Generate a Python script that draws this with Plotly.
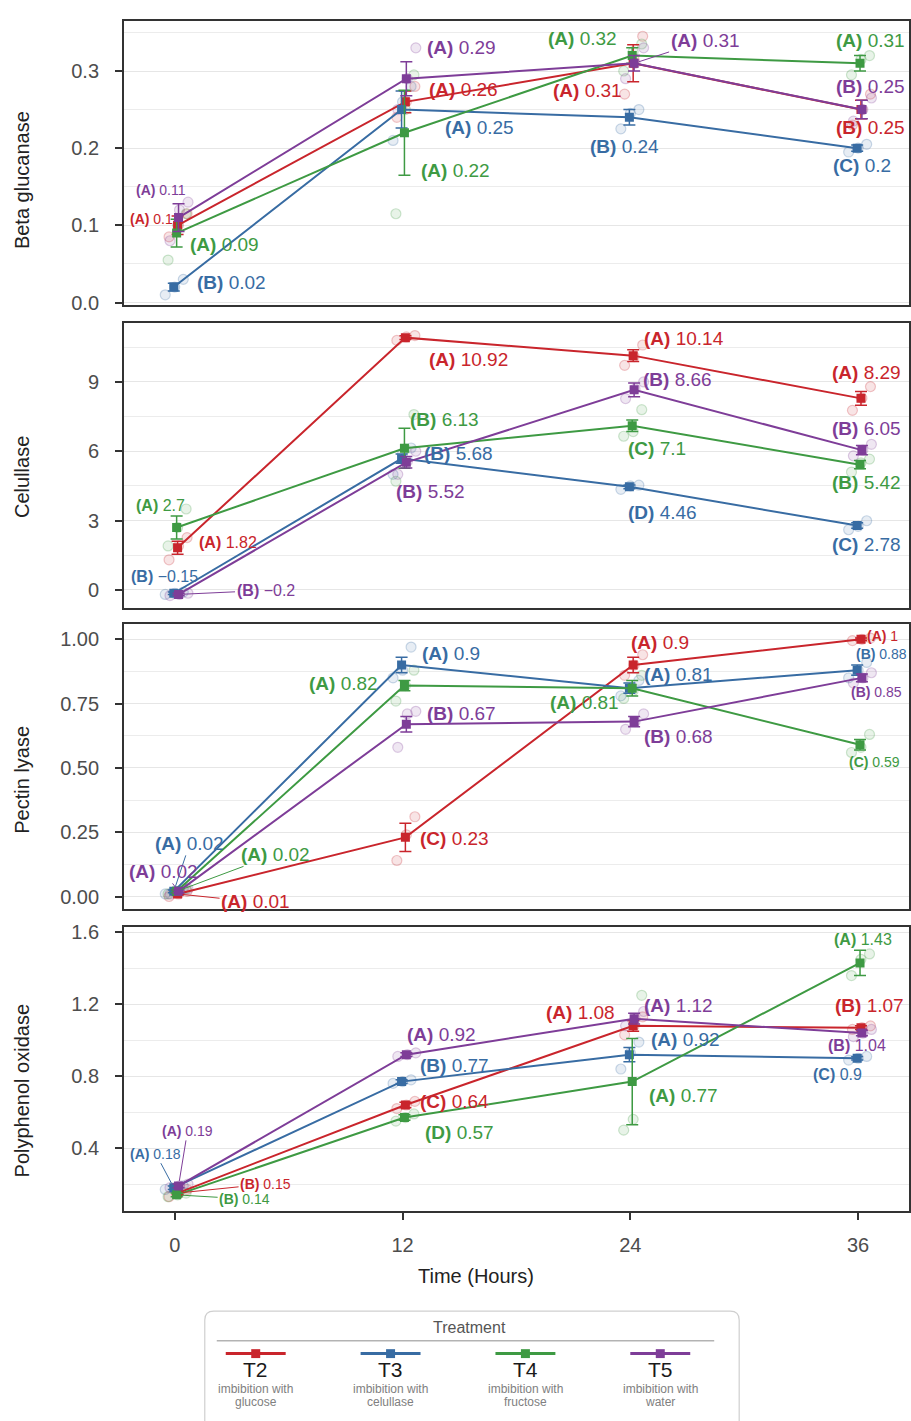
import plotly.graph_objects as go

W, H = 911, 1421
FONT = "Liberation Sans"

# ---------------------------------------------------------------- data
TIME = [0, 12, 24, 36]
TREATMENTS = ["T2", "T3", "T4", "T5"]
TREATMENT_INFO = [["imbibition with", "glucose"], ["imbibition with", "celullase"],
                  ["imbibition with", "fructose"], ["imbibition with", "water"]]
ENZYMES = ["Beta glucanase", "Celullase", "Pectin lyase", "Polyphenol oxidase"]

# rows = T2, T3, T4, T5 ; columns = 0, 12, 24, 36 h
BG_MEAN = [[0.10, 0.26, 0.31, 0.25],
           [0.02, 0.25, 0.24, 0.20],
           [0.09, 0.22, 0.32, 0.31],
           [0.11, 0.29, 0.31, 0.25]]
BG_SE = [[0.012, 0.014, 0.024, 0.012],
         [0.005, 0.024, 0.010, 0.004],
         [0.018, 0.055, 0.010, 0.010],
         [0.018, 0.022, 0.010, 0.012]]
BG_GROUP = [["A", "A", "A", "B"], ["B", "A", "B", "C"],
            ["A", "A", "A", "A"], ["A", "A", "A", "B"]]
BG_REPS = [[[0.085, 0.10, 0.115], [0.24, 0.26, 0.28], [0.27, 0.315, 0.345], [0.23, 0.25, 0.27]],
           [[0.01, 0.02, 0.03], [0.21, 0.26, 0.28], [0.225, 0.245, 0.25], [0.195, 0.20, 0.205]],
           [[0.055, 0.10, 0.115], [0.115, 0.25, 0.295], [0.30, 0.325, 0.335], [0.295, 0.315, 0.32]],
           [[0.08, 0.12, 0.13], [0.25, 0.29, 0.33], [0.29, 0.31, 0.33], [0.235, 0.25, 0.265]]]

CEL_MEAN = [[1.82, 10.92, 10.14, 8.29],
            [-0.15, 5.68, 4.46, 2.78],
            [2.7, 6.13, 7.1, 5.42],
            [-0.2, 5.52, 8.66, 6.05]]
CEL_SE = [[0.28, 0.08, 0.25, 0.30],
          [0.05, 0.20, 0.08, 0.12],
          [0.50, 0.87, 0.25, 0.18],
          [0.05, 0.25, 0.30, 0.20]]
CEL_GROUP = [["A", "A", "A", "A"], ["B", "B", "D", "C"],
             ["A", "B", "C", "B"], ["B", "B", "B", "B"]]
CEL_REPS = [[[1.3, 1.9, 2.26], [10.8, 10.95, 11.01], [9.72, 10.1, 10.6], [7.77, 8.3, 8.8]],
            [[-0.2, -0.15, -0.1], [5.0, 5.9, 6.14], [4.35, 4.5, 4.53], [2.6, 2.75, 2.99]],
            [[1.9, 2.7, 3.5], [4.7, 6.1, 7.59], [6.65, 6.85, 7.8], [5.1, 5.5, 5.66]],
            [[-0.25, -0.2, -0.15], [5.0, 5.56, 6.0], [8.28, 8.7, 9.0], [5.8, 6.05, 6.3]]]

PL_MEAN = [[0.01, 0.23, 0.90, 1.00],
           [0.02, 0.90, 0.81, 0.88],
           [0.02, 0.82, 0.81, 0.59],
           [0.02, 0.67, 0.68, 0.85]]
PL_SE = [[0.005, 0.055, 0.03, 0.005],
         [0.005, 0.03, 0.02, 0.02],
         [0.005, 0.02, 0.03, 0.02],
         [0.005, 0.03, 0.02, 0.015]]
PL_GROUP = [["A", "C", "A", "A"], ["A", "A", "A", "B"],
            ["A", "A", "A", "C"], ["A", "B", "B", "B"]]
PL_REPS = [[[0.0, 0.01, 0.02], [0.14, 0.24, 0.31], [0.86, 0.90, 0.94], [0.995, 1.0, 1.005]],
           [[0.01, 0.02, 0.03], [0.85, 0.88, 0.97], [0.78, 0.81, 0.84], [0.85, 0.88, 0.91]],
           [[0.01, 0.02, 0.03], [0.76, 0.82, 0.88], [0.77, 0.80, 0.86], [0.56, 0.58, 0.63]],
           [[0.01, 0.02, 0.03], [0.58, 0.71, 0.72], [0.65, 0.68, 0.71], [0.83, 0.85, 0.87]]]

PPO_MEAN = [[0.15, 0.64, 1.08, 1.07],
            [0.18, 0.77, 0.92, 0.90],
            [0.14, 0.57, 0.77, 1.43],
            [0.19, 0.92, 1.12, 1.04]]
PPO_SE = [[0.01, 0.015, 0.03, 0.01],
          [0.01, 0.01, 0.04, 0.01],
          [0.01, 0.015, 0.24, 0.07],
          [0.01, 0.01, 0.03, 0.015]]
PPO_GROUP = [["B", "C", "A", "B"], ["A", "B", "A", "C"],
             ["B", "D", "A", "A"], ["A", "A", "A", "B"]]
PPO_REPS = [[[0.13, 0.15, 0.17], [0.62, 0.64, 0.66], [1.03, 1.08, 1.13], [1.06, 1.07, 1.08]],
            [[0.17, 0.18, 0.19], [0.76, 0.77, 0.78], [0.84, 0.93, 0.99], [0.89, 0.90, 0.91]],
            [[0.13, 0.14, 0.15], [0.55, 0.57, 0.59], [0.50, 0.56, 1.25], [1.36, 1.45, 1.48]],
            [[0.18, 0.19, 0.20], [0.91, 0.92, 0.93], [1.08, 1.12, 1.16], [1.02, 1.04, 1.06]]]

Y_TICKS = [[0, 0.1, 0.2, 0.3], [0, 3, 6, 9], [0, 0.25, 0.5, 0.75, 1.0], [0.4, 0.8, 1.2, 1.6]]
Y_TICKTEXT = [["0.0", "0.1", "0.2", "0.3"], ["0", "3", "6", "9"],
              ["0.00", "0.25", "0.50", "0.75", "1.00"], ["0.4", "0.8", "1.2", "1.6"]]
X_TICKS = [0, 12, 24, 36]

PANELS = [(BG_MEAN, BG_SE, BG_GROUP, BG_REPS),
          (CEL_MEAN, CEL_SE, CEL_GROUP, CEL_REPS),
          (PL_MEAN, PL_SE, PL_GROUP, PL_REPS),
          (PPO_MEAN, PPO_SE, PPO_GROUP, PPO_REPS)]

# ---------------------------------------------------------------- style
COLORS = ["#C9252C", "#386CA3", "#3E9A43", "#7E3D98"]
FILL = ["rgba(201,37,44,0.12)", "rgba(56,108,163,0.12)", "rgba(62,154,67,0.12)", "rgba(126,61,152,0.12)"]
EDGE = ["rgba(201,37,44,0.25)", "rgba(56,108,163,0.25)", "rgba(62,154,67,0.25)", "rgba(126,61,152,0.25)"]
DODGE = [0.15, -0.05, 0.1, 0.2]          # hours, per treatment
REP_OFFSETS = [-0.45, 0.05, 0.5]         # horizontal spread of replicate dots

PANEL_TOP = [15, 320, 625, 931]
PANEL_BOTTOM = [302, 608, 913, 1218]
PANEL_LEFT, PANEL_RIGHT = 124, 910
X_RANGE = [-2.68, 38.68]
Y_RANGE = [[-0.003, 0.365], [-0.77, 11.57], [-0.05, 1.058], [0.0495, 1.629]]
MINOR_STEP = [0.05, 1.5, 0.125, 0.2]
YTITLE_Y = [176, 476, 782, 1096]

L, M, S = 19, 16, 14
# label placement: (kind, dx, dy, size); kind l/c/r = anchor, a = leader line
LABELS = [
    [[("c", -23, -6, S), ("l", 24, -12, L), ("r", -6, 27, L), ("c", 12, 18, L)],
     [("l", 20, -5, L), ("l", 40, 18, L), ("c", -6, 29, L), ("c", 4, 17, L)],
     [("l", 13, 11, L), ("l", 16, 38, L), ("r", -11, -17, L), ("l", -24, -23, L)],
     [("c", -14, -28, S), ("l", 22, -31, L), ("a", 71, -23, L), ("c", 12, -23, L)]],
    [[("l", 22, -5, M), ("l", 24, 22, L), ("l", 12, -17, L), ("c", 8, -26, L)],
     [("c", -10, -17, M), ("l", 19, -5, L), ("l", -4, 26, L), ("c", 8, 19, L)],
     [("c", -14, -22, M), ("l", 5, -29, L), ("l", -4, 23, L), ("c", 8, 18, L)],
     [("a", 87, -4, M), ("l", -9, 29, L), ("l", 11, -10, L), ("c", 8, -22, L)]],
    [[("a", 78, 8, L), ("l", 15, 1, L), ("l", -1, -23, L), ("l", 7, -3, S)],
     [("a", 16, -48, L), ("l", 17, -12, L), ("l", 12, -14, L), ("l", -4, -16, S)],
     [("a", 99, -37, L), ("r", -23, -2, L), ("r", -9, 14, L), ("c", 16, 17, S)],
     [("a", -15, -20, L), ("l", 22, -11, L), ("l", 12, 15, L), ("c", 18, 14, S)]],
    [[("a", 88, -9, S), ("l", 15, -3, L), ("r", -13, -13, L), ("c", 11, -22, L)],
     [("a", -18, -34, S), ("l", 15, -16, L), ("l", 19, -15, L), ("c", -21, 16, M)],
     [("a", 68, 4, S), ("l", 20, 15, L), ("l", 17, 14, L), ("c", 5, -23, M)],
     [("a", 9, -55, S), ("l", 2, -20, L), ("l", 12, -13, L), ("c", -1, 12, M)]],
]


def px_x(x):
    return x / W


def px_y(y):
    return 1 - y / H


def fmt(v):
    s = f"{v:.2f}".rstrip("0").rstrip(".")
    return s.replace("-", "\u2212")


def ax_name(kind, i):
    return kind if i == 0 else f"{kind}{i + 1}"


def page_text(x, y, text, size, color, **extra):
    return dict(xref="paper", yref="paper", x=px_x(x), y=px_y(y), text=text,
                showarrow=False, xanchor="center", yanchor="middle",
                font=dict(family=FONT, size=size, color=color), **extra)


fig = go.Figure()
annotations = []
shapes = []

for p, (means, ses, groups, reps) in enumerate(PANELS):
    xa, ya = ax_name("x", p), ax_name("y", p)
    # replicate observations
    for s in range(4):
        rx, ry = [], []
        for k, t in enumerate(TIME):
            for off, val in zip(REP_OFFSETS, reps[s][k]):
                rx.append(t + DODGE[s] + off)
                ry.append(val)
        fig.add_trace(go.Scatter(x=rx, y=ry, mode="markers", xaxis=xa, yaxis=ya,
                                 marker=dict(symbol="circle", size=10, color=FILL[s],
                                             line=dict(color=EDGE[s], width=1.2)),
                                 showlegend=False, hoverinfo="skip"))
    # treatment means with standard error
    for s in range(4):
        fig.add_trace(go.Scatter(
            x=[t + DODGE[s] for t in TIME], y=means[s], mode="lines+markers",
            xaxis=xa, yaxis=ya, name=TREATMENTS[s], showlegend=False,
            line=dict(color=COLORS[s], width=2),
            marker=dict(symbol="square", size=9, color=COLORS[s]),
            error_y=dict(type="data", array=ses[s], color=COLORS[s], thickness=1.5, width=6)))
    # value labels with letter groups
    for s in range(4):
        for k, t in enumerate(TIME):
            kind, dx, dy, size = LABELS[p][s][k]
            text = f"<b>({groups[s][k]})</b> {fmt(means[s][k])}"
            base = dict(xref=xa, yref=ya, y=means[s][k], text=text,
                        font=dict(family=FONT, size=size, color=COLORS[s]))
            if kind == "a":
                annotations.append(dict(base, x=t + DODGE[s], showarrow=True, ax=dx, ay=dy,
                                        xanchor="center", yanchor="middle",
                                        arrowhead=0, arrowwidth=1, arrowcolor=COLORS[s],
                                        standoff=5, startstandoff=0))
            else:
                anchor = {"l": "left", "c": "center", "r": "right"}[kind]
                annotations.append(dict(base, x=t, showarrow=False, xanchor=anchor,
                                        yanchor="middle", xshift=dx, yshift=-dy))
    # axis title
    annotations.append(page_text(22, YTITLE_Y[p], ENZYMES[p], 20, "#222222", textangle=-90))

# ---------------------------------------------------------------- axes
layout_axes = {}
for p in range(4):
    xkey = "xaxis" if p == 0 else f"xaxis{p + 1}"
    ykey = "yaxis" if p == 0 else f"yaxis{p + 1}"
    bottom = p == 3
    layout_axes[xkey] = dict(
        domain=[px_x(PANEL_LEFT), px_x(PANEL_RIGHT)], anchor=ax_name("y", p),
        range=X_RANGE, showgrid=False, zeroline=False,
        showline=True, mirror=True, linecolor="#333333", linewidth=1.6,
        tickvals=X_TICKS, showticklabels=bottom,
        ticks="outside" if bottom else "", ticklen=7, tickwidth=1.5, tickcolor="#333333",
        ticklabelstandoff=8,
        tickfont=dict(family=FONT, size=20, color="#4d4d4d"))
    layout_axes[ykey] = dict(
        domain=[px_y(PANEL_BOTTOM[p]), px_y(PANEL_TOP[p])], anchor=ax_name("x", p),
        range=Y_RANGE[p], zeroline=False,
        showline=True, mirror=True, linecolor="#333333", linewidth=1.6,
        tickvals=Y_TICKS[p], ticktext=Y_TICKTEXT[p],
        ticks="outside", ticklen=7, tickwidth=1.5, tickcolor="#333333",
        ticklabelstandoff=12,
        tickfont=dict(family=FONT, size=20, color="#4d4d4d"),
        showgrid=True, gridcolor="#e6e6e6", gridwidth=1.3,
        minor=dict(dtick=MINOR_STEP[p], tick0=0, showgrid=True,
                   gridcolor="#ececec", gridwidth=1, ticks=""))

annotations.append(page_text(477, 1284, "Time (Hours)", 20, "#222222"))

# ---------------------------------------------------------------- legend
def rounded_rect(x0, y0, x1, y1, r):
    pts = [
        f"M{px_x(x0 + r)},{px_y(y0)}", f"L{px_x(x1 - r)},{px_y(y0)}",
        f"Q{px_x(x1)},{px_y(y0)} {px_x(x1)},{px_y(y0 + r)}", f"L{px_x(x1)},{px_y(y1 - r)}",
        f"Q{px_x(x1)},{px_y(y1)} {px_x(x1 - r)},{px_y(y1)}", f"L{px_x(x0 + r)},{px_y(y1)}",
        f"Q{px_x(x0)},{px_y(y1)} {px_x(x0)},{px_y(y1 - r)}", f"L{px_x(x0)},{px_y(y0 + r)}",
        f"Q{px_x(x0)},{px_y(y0)} {px_x(x0 + r)},{px_y(y0)}", "Z"]
    return " ".join(pts)


shapes.append(dict(type="path", xref="paper", yref="paper",
                   path=rounded_rect(205, 1319, 740, 1440, 9),
                   line=dict(color="#cfcfcf", width=1.2), fillcolor="rgba(0,0,0,0)"))
shapes.append(dict(type="line", xref="paper", yref="paper",
                   x0=px_x(217), x1=px_x(715), y0=px_y(1349), y1=px_y(1349),
                   line=dict(color="#b3b3b3", width=1.6)))
annotations.append(page_text(470, 1336, "Treatment", 16, "#555555"))

KEY_X = [256, 391, 526, 661]
for s, cx in enumerate(KEY_X):
    shapes.append(dict(type="line", xref="paper", yref="paper",
                       x0=px_x(cx - 30), x1=px_x(cx + 30), y0=px_y(1362), y1=px_y(1362),
                       line=dict(color=COLORS[s], width=3)))
    shapes.append(dict(type="rect", xref="paper", yref="paper",
                       x0=px_x(cx - 4.5), x1=px_x(cx + 4.5), y0=px_y(1366.5), y1=px_y(1357.5),
                       line=dict(width=0), fillcolor=COLORS[s]))
    annotations.append(page_text(cx, 1378, TREATMENTS[s], 21, "#1a1a1a"))
    annotations.append(page_text(cx, 1398, TREATMENT_INFO[s][0], 12, "#808080"))
    annotations.append(page_text(cx, 1411, TREATMENT_INFO[s][1], 12, "#808080"))

fig.update_layout(
    width=W, height=H, margin=dict(l=0, r=0, t=0, b=0),
    paper_bgcolor="white", plot_bgcolor="white",
    showlegend=False, annotations=annotations, shapes=shapes,
    font=dict(family=FONT), **layout_axes)

fig.write_html("out.html")
